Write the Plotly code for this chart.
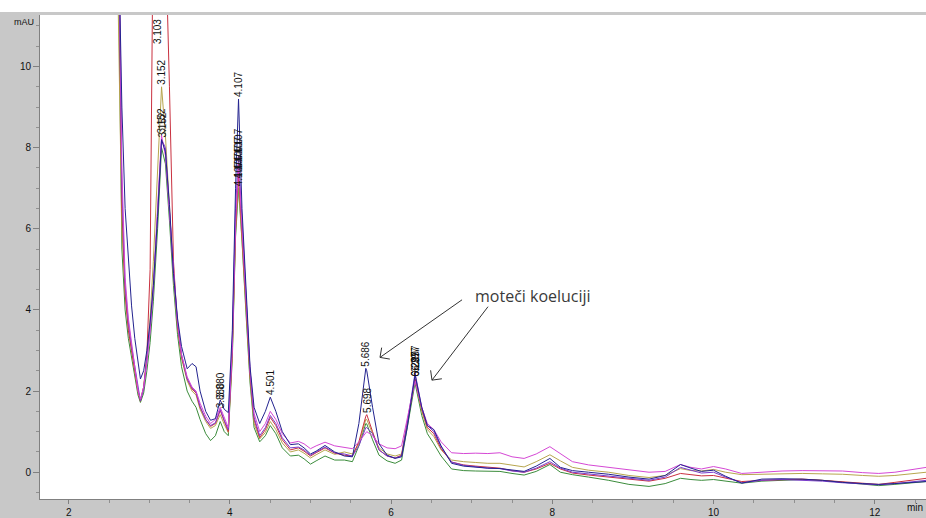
import math
import plotly.graph_objects as go

# Retention time grid (min)
time_min = [
    2.50, 2.56, 2.62, 2.66, 2.70, 2.74, 2.78, 2.82, 2.86, 2.89,
    2.93, 2.97, 3.01, 3.05, 3.103, 3.152, 3.20, 3.25, 3.30, 3.35,
    3.40, 3.47, 3.53, 3.58, 3.63, 3.70, 3.76, 3.82, 3.88, 3.93,
    3.98, 4.03, 4.07, 4.107, 4.15, 4.20, 4.25, 4.30, 4.37, 4.44,
    4.501, 4.57, 4.65, 4.75, 4.85, 4.92, 5.00, 5.07, 5.18, 5.30,
    5.42, 5.52, 5.60, 5.686, 5.698, 5.77, 5.85, 5.95, 6.05, 6.13, 6.20,
    6.297, 6.38, 6.45, 6.53, 6.62, 6.75, 6.90, 7.05, 7.20, 7.35,
    7.50, 7.65, 7.80, 7.97, 8.10, 8.25, 8.45, 8.70, 8.95, 9.20,
    9.40, 9.59, 9.72, 9.85, 10.00, 10.15, 10.35, 10.60, 10.85, 11.10,
    11.35, 11.60, 11.85, 12.05, 12.25, 12.45, 12.64,
]

# Detector signal (mAU) for each injection
sig_blue = [
    25, 20, 13, 9.0, 6.5, 5.2, 4.1, 3.3, 2.65, 2.3,
    2.5, 3.0, 3.7, 4.6, 6.3, 8.2, 7.9, 6.6, 4.9, 3.8,
    3.1, 2.55, 2.68, 2.6, 2.0, 1.5, 1.28, 1.32, 1.78, 1.55,
    1.47, 3.5, 7.0, 9.2, 6.5, 4.4, 2.6, 1.6, 1.2, 1.5,
    1.85, 1.5, 1.0, 0.68, 0.7, 0.6, 0.45, 0.52, 0.66, 0.5,
    0.4, 0.38, 1.2, 2.56, 2.5, 1.6, 0.7, 0.42, 0.34, 0.38, 1.1,
    2.4, 1.6, 1.15, 1.05, 0.65, 0.22, 0.15, 0.12, 0.1, 0.09,
    0.05, 0.02, 0.15, 0.34, 0.12, 0.04, 0.0, -0.05, -0.12, -0.17,
    -0.08, 0.19, 0.1, 0.02, 0.05, -0.1, -0.27, -0.17, -0.16, -0.17,
    -0.2, -0.25, -0.28, -0.3, -0.28, -0.25, -0.23,
]
sig_red = [
    25, 20, 13, 6.5, 4.4, 3.5, 3.0, 2.5, 2.0, 1.75,
    2.1, 2.9, 5.0, 14.0, 22.0, 17.0, 13.5, 9.5, 5.2, 3.6,
    2.85, 2.3, 2.05, 1.95, 1.6, 1.3, 1.13, 1.2, 1.52, 1.25,
    1.0, 3.0, 6.0, 7.4, 5.9, 4.1, 2.4, 1.3, 0.85, 1.05,
    1.35, 1.15, 0.8, 0.55, 0.6, 0.52, 0.4, 0.48, 0.6, 0.47,
    0.42, 0.4, 0.75, 1.38, 1.42, 1.0, 0.55, 0.4, 0.35, 0.42, 1.2,
    2.3, 1.55, 1.1, 0.95, 0.58, 0.25, 0.18, 0.15, 0.12, 0.1,
    0.04, 0.0, 0.08, 0.22, 0.08, -0.02, -0.07, -0.12, -0.18, -0.22,
    -0.15, -0.03, -0.06, -0.09, -0.08, -0.15, -0.23, -0.2, -0.18, -0.17,
    -0.2, -0.24, -0.28, -0.3, -0.25, -0.2, -0.15,
]
sig_green = [
    25, 19, 12, 5.5, 4.0, 3.3, 2.8, 2.3, 1.9, 1.72,
    1.95, 2.5, 3.2, 4.2, 6.0, 8.0, 7.6, 6.2, 4.6, 3.4,
    2.6, 2.0, 1.75, 1.6, 1.3, 0.95, 0.78, 0.9, 1.25, 1.0,
    0.9, 2.8, 5.8, 7.0, 5.7, 3.9, 2.2, 1.1, 0.75, 0.9,
    1.15, 0.95, 0.6, 0.4, 0.42, 0.33, 0.2, 0.28, 0.4, 0.3,
    0.3, 0.26, 0.65, 1.2, 1.19, 0.8, 0.42, 0.28, 0.22, 0.3, 1.1,
    2.2, 1.4, 0.95, 0.7, 0.4, 0.08, 0.04, 0.03, 0.03, 0.02,
    -0.03, -0.07, 0.02, 0.19, 0.0, -0.06, -0.12, -0.2, -0.3, -0.35,
    -0.28, -0.15, -0.18, -0.2, -0.18, -0.22, -0.27, -0.22, -0.2, -0.18,
    -0.2, -0.25, -0.3, -0.33, -0.3, -0.26, -0.23,
]
sig_olive = [
    25, 18, 11, 6.0, 4.4, 3.6, 3.0, 2.5, 2.0, 1.78,
    2.1, 2.8, 3.8, 5.2, 7.5, 9.5, 8.3, 6.5, 4.8, 3.6,
    2.8, 2.25, 2.0, 1.9, 1.55, 1.25, 1.08, 1.15, 1.42, 1.18,
    0.98, 2.9, 5.9, 7.2, 5.8, 4.0, 2.3, 1.2, 0.82, 0.98,
    1.25, 1.05, 0.72, 0.5, 0.55, 0.47, 0.35, 0.43, 0.55, 0.44,
    0.5, 0.45, 0.7, 1.3, 1.3, 0.95, 0.6, 0.45, 0.4, 0.45, 1.2,
    2.3, 1.5, 1.05, 0.88, 0.55, 0.3, 0.26, 0.24, 0.22, 0.22,
    0.17, 0.13, 0.26, 0.43, 0.28, 0.12, 0.05, 0.0, -0.08, -0.13,
    -0.08, 0.09, 0.04, 0.03, 0.07, 0.0, -0.06, -0.05, -0.04, -0.03,
    -0.04, -0.05, -0.08, -0.1, -0.08, -0.04, 0.0,
]
sig_magenta = [
    25, 20, 14, 7.5, 4.8, 3.8, 3.2, 2.6, 2.0, 1.8,
    2.1, 2.7, 3.5, 4.6, 6.6, 8.3, 7.8, 6.4, 4.9, 3.7,
    2.9, 2.35, 2.1, 2.0, 1.7, 1.38, 1.2, 1.3, 1.6, 1.35,
    1.1, 3.1, 6.2, 7.6, 6.0, 4.2, 2.5, 1.45, 1.0, 1.2,
    1.5, 1.3, 0.95, 0.72, 0.76, 0.7, 0.58, 0.65, 0.74, 0.65,
    0.62, 0.58, 0.75, 0.98, 1.0, 0.9, 0.7, 0.6, 0.58, 0.65, 1.3,
    2.25, 1.6, 1.2, 1.05, 0.75, 0.48, 0.46, 0.47, 0.46, 0.48,
    0.38, 0.34, 0.45, 0.63, 0.45, 0.26, 0.18, 0.12, 0.05, 0.0,
    0.02, 0.19, 0.12, 0.08, 0.14, 0.08, -0.03, 0.0, 0.03, 0.04,
    0.04, 0.03, -0.01, -0.03, 0.0, 0.06, 0.12,
]
sig_purple = [
    25, 20, 13, 7.0, 4.6, 3.7, 3.1, 2.6, 2.05, 1.76,
    2.05, 2.7, 3.5, 4.5, 6.4, 8.2, 8.0, 6.5, 4.9, 3.7,
    2.9, 2.3, 2.08, 1.98, 1.62, 1.3, 1.15, 1.22, 1.55, 1.28,
    1.05, 3.2, 6.5, 7.8, 6.2, 4.3, 2.5, 1.35, 0.9, 1.1,
    1.4, 1.2, 0.85, 0.6, 0.62, 0.55, 0.42, 0.5, 0.62, 0.48,
    0.45, 0.4, 0.65, 1.1, 1.1, 0.95, 0.55, 0.4, 0.35, 0.4, 1.2,
    2.45, 1.6, 1.15, 1.0, 0.62, 0.25, 0.17, 0.13, 0.1, 0.09,
    0.03, 0.0, 0.1, 0.26, 0.1, 0.0, -0.04, -0.09, -0.15, -0.2,
    -0.12, 0.12, 0.05, -0.02, 0.0, -0.12, -0.26, -0.2, -0.18, -0.2,
    -0.22, -0.26, -0.29, -0.31, -0.28, -0.24, -0.2,
]

signals = {
    "green": sig_green,
    "olive": sig_olive,
    "red": sig_red,
    "purple": sig_purple,
    "magenta": sig_magenta,
    "blue": sig_blue,
}
line_colors = {
    "green": "#3b8c3b",
    "olive": "#b7a64e",
    "red": "#c9303f",
    "purple": "#7a3ccc",
    "magenta": "#d548d5",
    "blue": "#23238f",
}

# Integrated peaks that carry a retention-time label: (injection, time)
peak_labels = [
    ("red", 3.103), ("olive", 3.152), ("magenta", 3.152), ("purple", 3.152),
    ("blue", 3.88), ("red", 3.88),
    ("blue", 4.107), ("purple", 4.107), ("magenta", 4.107), ("red", 4.107),
    ("olive", 4.107), ("green", 4.107),
    ("blue", 4.501), ("blue", 5.686), ("red", 5.698),
    ("blue", 6.297), ("purple", 6.297), ("red", 6.297), ("olive", 6.297),
]

note_text = "moteči koeluciji"

X_RANGE = [1.644, 12.636]
Y_RANGE = [-0.66, 11.27]
W, H = 926, 518
M_L, M_R, M_T, M_B = 40, 0, 15, 15
PLOT_W = W - M_L - M_R
PLOT_H = H - M_T - M_B
PX_PER_MIN = PLOT_W / (X_RANGE[1] - X_RANGE[0])
PX_PER_MAU = PLOT_H / (Y_RANGE[1] - Y_RANGE[0])

for name, ys in signals.items():
    assert len(ys) == len(time_min), name

fig = go.Figure()
for name, ys in signals.items():
    fig.add_trace(go.Scatter(
        x=time_min, y=ys, mode="lines",
        line=dict(color=line_colors[name], width=1),
        hoverinfo="skip",
    ))

label_font = dict(family="Arial, Liberation Sans", size=10, color="#111")

# retention-time labels, written vertically above each apex
for name, t in peak_labels:
    v = signals[name][time_min.index(t)]
    if v > Y_RANGE[1]:
        fig.add_annotation(x=t, y=Y_RANGE[1], yshift=-2, yanchor="top",
                           text=f"{t:.3f}", textangle=-90, showarrow=False,
                           font=label_font)
    else:
        fig.add_annotation(x=t, y=v, yanchor="bottom",
                           text=f"{t:.3f}", textangle=-90, showarrow=False,
                           font=label_font)

# note with two open-headed arrows pointing at the co-eluting peaks
note_pos = (7.761, 4.34)
arrows = [((6.880, 4.25), (5.862, 2.83)), ((7.202, 4.08), (6.507, 2.27))]
fig.add_annotation(x=note_pos[0], y=note_pos[1], text=note_text, showarrow=False,
                   xanchor="center", yanchor="middle",
                   font=dict(family="Open Sans", size=16, color="#3a3a3a"))


def barb_end(tip, tail, length, turn):
    dx = (tail[0] - tip[0]) * PX_PER_MIN
    dy = -(tail[1] - tip[1]) * PX_PER_MAU
    a = math.atan2(dy, dx) + turn
    return (tip[0] + length * math.cos(a) / PX_PER_MIN,
            tip[1] - length * math.sin(a) / PX_PER_MAU)


for tail, tip in arrows:
    fig.add_shape(type="line", x0=tail[0], y0=tail[1], x1=tip[0], y1=tip[1],
                  line=dict(color="#333", width=1))
    for turn in (math.radians(45), math.radians(-45)):
        bx, by = barb_end(tip, tail, 10, turn)
        fig.add_shape(type="line", x0=tip[0], y0=tip[1], x1=bx, y1=by,
                      line=dict(color="#333", width=1))

# white strip above the frame
fig.add_shape(type="rect", xref="paper", yref="paper",
              x0=-M_L / PLOT_W, x1=1.0, y0=1 + 3 / PLOT_H, y1=1 + (M_T + 2) / PLOT_H,
              fillcolor="white", line=dict(width=0), layer="below")

# unit captions
fig.add_annotation(xref="paper", yref="paper",
                   x=(12 - M_L) / PLOT_W, y=1 - (22 - M_T) / PLOT_H,
                   xanchor="left", yanchor="middle",
                   text="mAU", showarrow=False,
                   font=dict(family="Arial, Liberation Sans", size=9, color="#111"))
fig.add_annotation(xref="paper", yref="paper",
                   x=1.0, y=-(512 - (H - M_B)) / PLOT_H,
                   xanchor="right", yanchor="middle", xshift=-1,
                   text="min", showarrow=False,
                   font=dict(family="Arial, Liberation Sans", size=10, color="#111"))

axis_font = dict(family="Arial, Liberation Sans", size=10, color="#111")
fig.update_layout(
    width=W, height=H,
    margin=dict(l=M_L, r=M_R, t=M_T, b=M_B),
    paper_bgcolor="#c8c8c8", plot_bgcolor="white",
    showlegend=False,
    xaxis=dict(range=X_RANGE, showgrid=False, zeroline=False,
               showline=True, linecolor="#808080", linewidth=1,
               ticks="outside", ticklen=4, tickcolor="#808080",
               tick0=0, dtick=2, tickfont=axis_font,
               minor=dict(ticks="outside", dtick=0.5, tick0=0, ticklen=3,
                          tickcolor="#909090", showgrid=False)),
    yaxis=dict(range=Y_RANGE, showgrid=False, zeroline=False,
               showline=True, linecolor="#808080", linewidth=1,
               ticks="outside", ticklen=6, tickcolor="#808080",
               tick0=0, dtick=2, tickfont=axis_font,
               minor=dict(ticks="outside", dtick=0.5, tick0=0, ticklen=3,
                          tickcolor="#909090", showgrid=False)),
)

fig.write_html("out.html")
